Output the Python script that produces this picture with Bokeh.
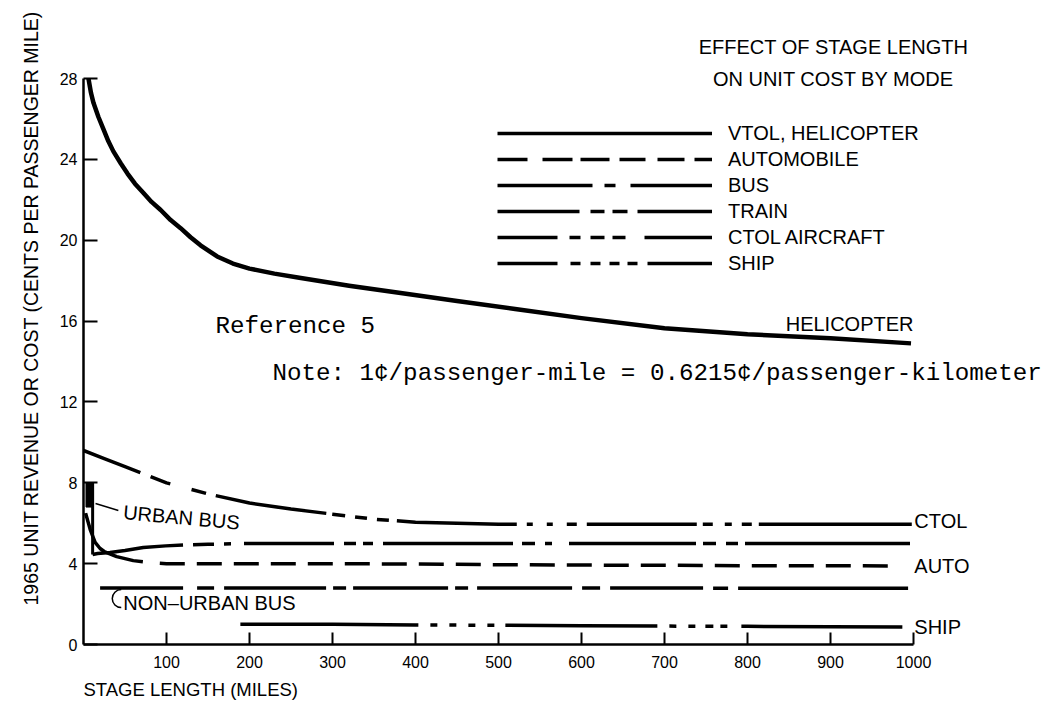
import numpy as np
from bokeh.plotting import figure
from bokeh.models import Range1d, FixedTicker, Label, Legend, LegendItem, Title, ColumnDataSource
from bokeh.embed import file_html
from bokeh.resources import INLINE

# ---------------- data ----------------
x_ticks = [100, 200, 300, 400, 500, 600, 700, 800, 900, 1000]
y_ticks = [0, 4, 8, 12, 16, 20, 24, 28]

heli_x = [6, 9, 12, 18, 24, 30, 36, 45, 53, 62, 72, 82, 93, 105, 117, 129, 141, 161, 180, 200, 230, 260,
          320, 380, 450, 520, 600, 700, 800, 900, 997]
heli_y = [28.0, 27.3, 26.8, 26.1, 25.5, 24.9, 24.4, 23.8, 23.3, 22.8, 22.35, 21.9, 21.5, 21.0, 20.6, 20.15,
          19.75, 19.2, 18.85, 18.6, 18.35, 18.15, 17.75, 17.4, 17.0, 16.6, 16.15, 15.65, 15.35, 15.15, 14.9]

ctol_x = [0, 25, 50, 75, 100, 150, 200, 250, 300, 350, 400, 500, 600, 700, 800, 900, 1000]
ctol_y = [9.6, 9.2, 8.8, 8.4, 8.0, 7.45, 7.0, 6.7, 6.45, 6.2, 6.05, 5.95, 5.95, 5.95, 5.95, 5.95, 5.95]

auto_x = [2.5, 8, 14, 20, 25, 40, 60, 80, 100, 150, 200, 300, 400, 500, 600, 700, 800, 900, 995]
auto_y = [6.5, 5.7, 5.05, 4.75, 4.6, 4.35, 4.15, 4.05, 4.0, 4.0, 4.0, 4.0, 3.98, 3.95, 3.93, 3.92, 3.9, 3.9, 3.88]

train_x = [11, 17, 32, 50, 72, 99, 120, 150, 200, 300, 400, 500, 600, 700, 800, 900, 1000]
train_y = [4.45, 4.5, 4.55, 4.65, 4.8, 4.88, 4.92, 4.96, 5.0, 5.0, 5.0, 5.0, 5.0, 5.0, 5.0, 5.0, 5.0]

bus_x = [20, 100, 200, 300, 400, 500, 600, 700, 800, 900, 994]
bus_y = [2.8, 2.8, 2.8, 2.8, 2.8, 2.8, 2.8, 2.8, 2.78, 2.78, 2.78]

ship_x = [189, 300, 400, 500, 600, 700, 800, 900, 994]
ship_y = [1.0, 1.0, 0.97, 0.95, 0.93, 0.91, 0.9, 0.88, 0.86]

urban_bus_x = [11, 11]
urban_bus_y = [8.0, 4.45]
urban_bus_left = [3]
urban_bus_right = [12]
urban_bus_top = [8.0]
urban_bus_bottom = [6.8]

legend_labels = ["VTOL, HELICOPTER", "AUTOMOBILE", "BUS", "TRAIN", "CTOL AIRCRAFT", "SHIP"]

# ---------------- layout / style ----------------
W, H = 1045, 712
B_LEFT, B_TOP, B_BOTTOM = 83, 8, 68
PX_PER_MI = 0.83
PX_PER_UNIT = 20.21
FRAME_W = W - B_LEFT
FRAME_H = H - B_TOP - B_BOTTOM
SANS = "Liberation Sans"
MONO = "Liberation Mono"

# dash layouts (ranges of stage length where the pen is down)
CTOL_ON = [(0, 69), (81, 105), (131, 149), (161, 294), (301, 316), (328, 342), (354, 368), (378, 523),
           (535, 542), (559, 566), (583, 595), (607, 740), (747, 759), (774, 783), (795, 807), (816, 1000)]
TRAIN_ON = [(11, 120), (132, 157), (169, 177), (193, 301), (313, 328), (337, 349), (361, 518), (529, 545),
            (557, 566), (587, 740), (749, 765), (777, 792), (801, 1000)]
BUS_ON = [(20, 120), (137, 157), (169, 292), (300, 316), (325, 439), (448, 464), (475, 589), (601, 623),
          (635, 747), (759, 777), (789, 994)]
SHIP_ON = [(189, 404), (418, 427), (442, 451), (466, 475), (490, 499), (512, 695), (710, 719), (734, 743),
           (755, 765), (774, 783), (800, 994)]
AUTO_FIRST = (2.5, 72)
AUTO_START, AUTO_PERIOD, AUTO_LEN = 92.8, 44.94, 30.1
AUTO_ON = [AUTO_FIRST] + [(AUTO_START + k * AUTO_PERIOD, min(AUTO_START + k * AUTO_PERIOD + AUTO_LEN, 995))
                          for k in range(20) if AUTO_START + k * AUTO_PERIOD < 995]

LEGEND_ON_PX = {
    "AUTOMOBILE": [(0, 30), (45, 75), (83, 112), (122, 148), (160, 187), (197, 215)],
    "BUS": [(0, 95), (107, 118), (133, 215)],
    "TRAIN": [(0, 82), (93, 107), (115, 130), (140, 215)],
    "CTOL AIRCRAFT": [(0, 60), (72, 83), (93, 107), (115, 128), (147, 215)],
    "SHIP": [(0, 60), (73, 83), (93, 103), (112, 122), (130, 140), (150, 215)],
}


def pattern_from_lengths(ranges):
    arr, pos = [], 0.0
    for i, (a, b) in enumerate(ranges):
        if i == 0:
            if a > 0:
                arr += [0, a]
        else:
            arr.append(max(a - pos, 1))
        arr.append(max(b - a, 1))
        pos = b
    arr.append(5000)
    return " ".join(str(int(round(v))) for v in arr)


def dash_for(xs, ys, on_ranges):
    xs = np.asarray(xs, float)
    ys = np.asarray(ys, float)
    cum = np.concatenate([[0.0], np.cumsum(np.hypot(np.diff(xs) * PX_PER_MI, np.diff(ys) * PX_PER_UNIT))])
    L = lambda m: float(np.interp(m, xs, cum))
    return pattern_from_lengths([(L(a), L(b)) for a, b in on_ranges])


p = figure(width=W, height=H,
           x_range=Range1d(0, FRAME_W / PX_PER_MI), y_range=Range1d(0, FRAME_H / PX_PER_UNIT),
           output_backend="svg", toolbar_location=None,
           min_border_left=B_LEFT, min_border_right=0, min_border_top=B_TOP, min_border_bottom=B_BOTTOM)
p.grid.visible = False
p.outline_line_color = None
p.background_fill_color = "white"

# axes
xa = p.xaxis[0]
xa.ticker = FixedTicker(ticks=x_ticks)
xa.bounds = (0, 1000)
xa.major_tick_in = 12
xa.major_tick_out = 0
xa.minor_tick_line_color = None
xa.axis_line_width = 2.5
xa.major_tick_line_width = 2
xa.major_label_standoff = 11
xa.major_label_text_font = SANS
xa.major_label_text_font_size = "16px"
xa.major_label_text_color = "black"
xa.axis_line_color = "black"
xa.major_tick_line_color = "black"

ya = p.yaxis[0]
ya.ticker = FixedTicker(ticks=y_ticks)
ya.bounds = (0, 28)
ya.major_tick_in = 14
ya.major_tick_out = 0
ya.minor_tick_line_color = None
ya.axis_line_width = 2.5
ya.major_tick_line_width = 2
ya.major_label_standoff = 6
ya.major_label_text_font = SANS
ya.major_label_text_font_size = "16px"
ya.major_label_text_color = "black"
ya.axis_line_color = "black"
ya.major_tick_line_color = "black"

p.add_layout(Title(text="1965 UNIT REVENUE OR COST (CENTS PER PASSENGER MILE)", align="left", offset=39,
                   text_font=SANS, text_font_style="normal", text_font_size="19.5px", text_color="black",
                   standoff=30), "left")
p.add_layout(Title(text="STAGE LENGTH (MILES)", align="left", text_font=SANS, text_font_style="normal",
                   text_font_size="18.5px", text_color="black", standoff=12), "below")

# data lines
LW = 3.5
p.line(heli_x, heli_y, line_width=4.5, line_color="black", line_join="round")
p.line(ctol_x, ctol_y, line_width=LW, line_color="black", line_dash=dash_for(ctol_x, ctol_y, CTOL_ON))
p.line(auto_x, auto_y, line_width=LW, line_color="black", line_dash=dash_for(auto_x, auto_y, AUTO_ON))
p.line(train_x, train_y, line_width=LW, line_color="black", line_dash=dash_for(train_x, train_y, TRAIN_ON))
p.line(bus_x, bus_y, line_width=LW, line_color="black", line_dash=dash_for(bus_x, bus_y, BUS_ON))
p.line(ship_x, ship_y, line_width=LW, line_color="black", line_dash=dash_for(ship_x, ship_y, SHIP_ON))
p.line(urban_bus_x, urban_bus_y, line_width=3, line_color="black")
p.quad(left=urban_bus_left, right=urban_bus_right, top=urban_bus_top, bottom=urban_bus_bottom,
       fill_color="black", line_color="black")

# legend (sample lines only; the sample renderers hold no visible data)
items = []
for lbl in legend_labels:
    dash = "solid" if lbl not in LEGEND_ON_PX else pattern_from_lengths(LEGEND_ON_PX[lbl])
    r = p.line("x", "y", source=ColumnDataSource(dict(x=[np.nan], y=[np.nan])), line_width=3.5,
               line_color="black", line_dash=dash)
    items.append(LegendItem(label=lbl, renderers=[r]))
legend = Legend(items=items, location=(414, 369), glyph_width=215, glyph_height=24, label_height=24,
                spacing=2, padding=0, margin=0, label_standoff=16, border_line_alpha=0,
                background_fill_alpha=0, label_text_font=SANS, label_text_font_size="20px",
                label_text_color="black")
p.add_layout(legend)

# texts
def lab(x, y, text, size="20px", font=SANS, align="left", baseline="middle", angle=0, style="normal"):
    p.add_layout(Label(x=x, y=y, text=text, text_font=font, text_font_size=size, text_align=align,
                       text_baseline=baseline, angle=angle, text_color="black", text_font_style=style))

lab(903.6, 29.54, "EFFECT OF STAGE LENGTH", align="center")
lab(903.6, 28.0, "ON UNIT COST BY MODE", align="center")
lab(159, 15.74, "Reference 5", size="24.2px", font=MONO, baseline="alphabetic")
lab(227.7, 13.41, "Note:  1¢/passenger-mile = 0.6215¢/passenger-kilometer", size="24.2px", font=MONO,
    baseline="alphabetic")
lab(1000, 15.85, "HELICOPTER", align="right", baseline="alphabetic")
lab(1001, 6.1, "CTOL")
lab(1001, 3.9, "AUTO")
lab(1001, 0.85, "SHIP")
lab(48, 6.55, "URBAN BUS", angle=-0.09)
lab(48, 2.05, "NON–URBAN BUS")

# leader for urban bus, hook for non-urban bus
p.segment(x0=[14.5], y0=[6.98], x1=[42], y1=[6.63], line_width=1.5, line_color="black")
p.arc(x=[45.5], y=[2.27], radius=9, radius_units="screen", start_angle=np.pi / 2, end_angle=3 * np.pi / 2,
      line_width=1.5, line_color="black")

open("out.html", "w").write(file_html(p, INLINE))
